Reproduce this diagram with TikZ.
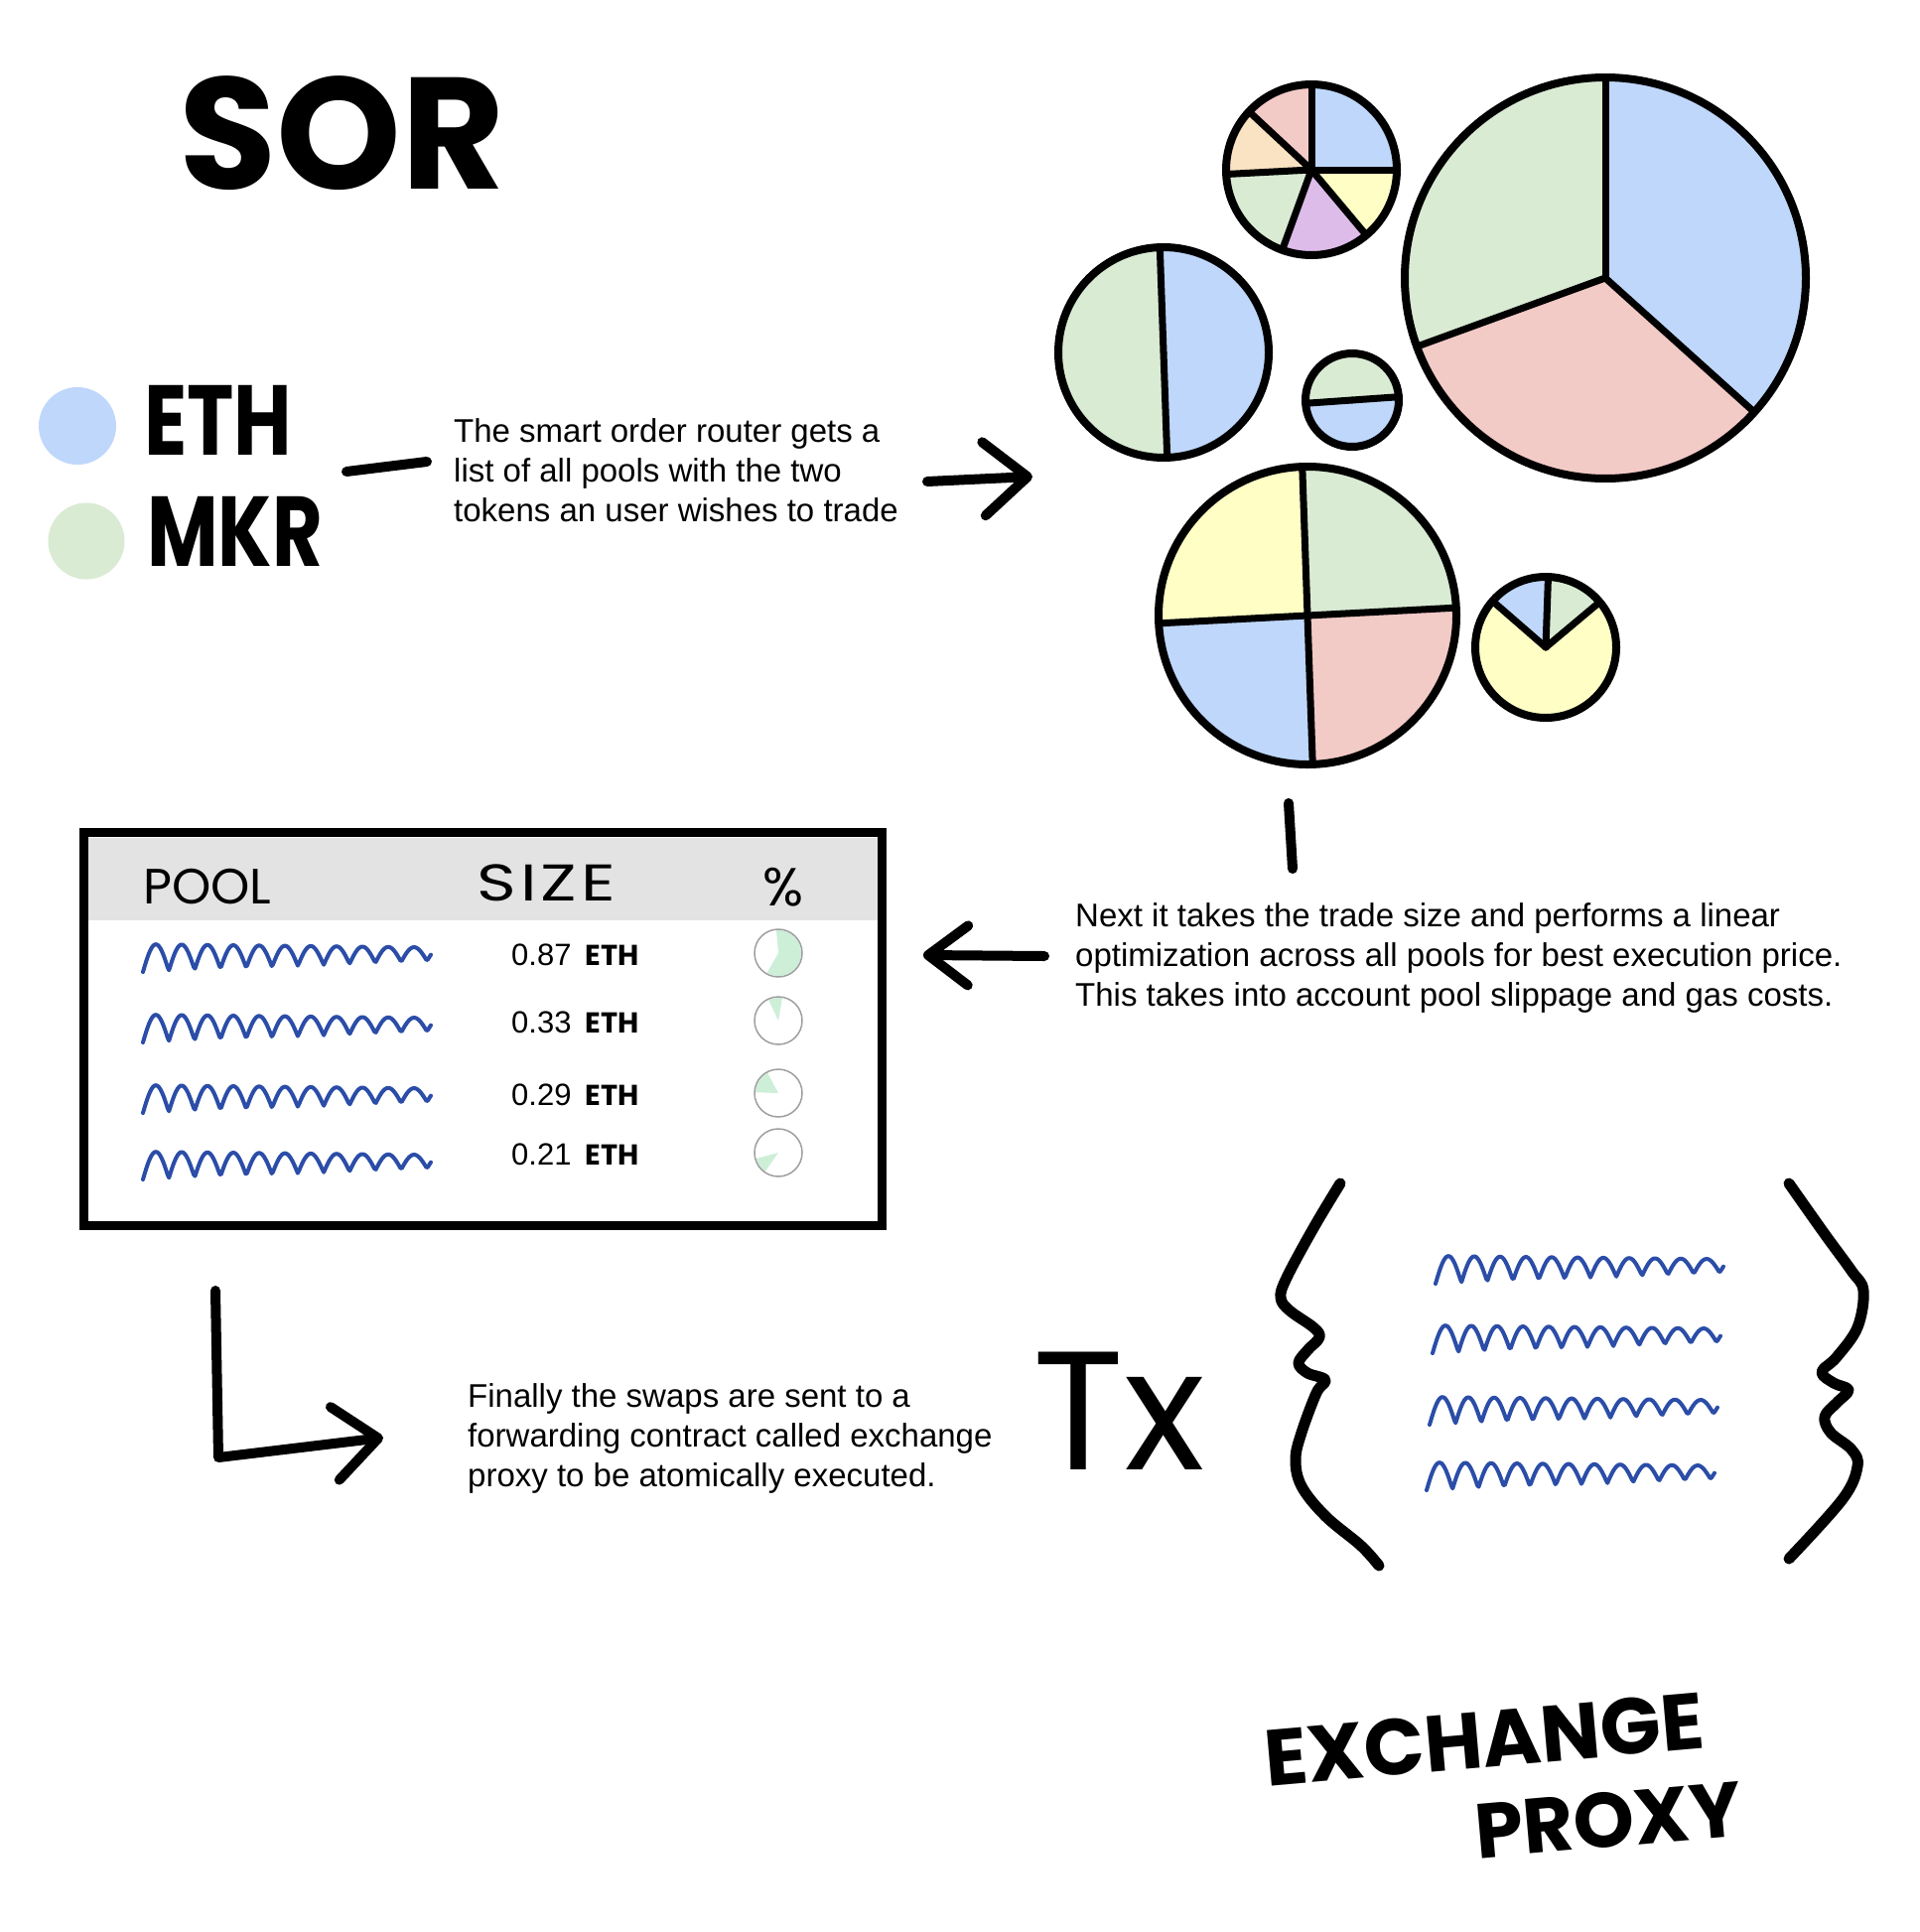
\documentclass[tikz,border=0pt]{standalone}
\usepackage{fontspec}
\setmainfont{Liberation Sans}
\newfontfamily\handfont{Poppins}
\usetikzlibrary{arrows.meta}

\definecolor{ethblue}{HTML}{BFD7FB}
\definecolor{mkrgreen}{HTML}{D9EBD3}
\definecolor{poolred}{HTML}{F2CAC6}
\definecolor{poolyellow}{HTML}{FEFEC5}
\definecolor{poolorange}{HTML}{F9E3C2}
\definecolor{poolpurple}{HTML}{DDBCEA}
\definecolor{headgrey}{HTML}{E3E3E3}
\definecolor{scribble}{HTML}{2B4DA8}
\definecolor{mint}{HTML}{CDEFD8}

% pie: centre x, centre y, radius, slices as start/end/colour
\newcommand{\drawpie}[4]{%
  \begin{scope}[shift={(#1,#2)},y=1pt]
    \foreach \a/\b/\c in {#4}
      {\fill[\c] (0,0) -- (\a:#3) arc[start angle=\a, end angle=\b, radius=#3] -- cycle;}
    \foreach \a/\b/\c in {#4}
      {\draw[slice] (0,0) -- (\a:#3);}
    \draw[rim] (0,0) circle[radius=#3];
  \end{scope}}

% scribbled pool name
\newcommand{\squiggle}[2]{%
  \draw[squig] plot[domain=0:290, samples=200]
    ({#1+\x}, {#2+0.5*(28-0.05*\x)-(28-0.05*\x)*abs(sin(6.92*\x))-0.0138*\x});}

\begin{document}
\begin{tikzpicture}[x=1pt,y=-1pt,
                    barb/.style={-{Straight Barb[round,length=44pt,width=74pt]}}]
  \tikzstyle{ink}=[line width=10pt,line cap=round,line join=round]
  \tikzstyle{rim}=[line width=8pt]
  \tikzstyle{slice}=[line width=7pt,line cap=round]
  \tikzstyle{squig}=[scribble,line width=4pt,line cap=round,line join=round]
  \tikzstyle{note}=[font=\fontsize{33}{40}\selectfont,align=left,anchor=base west,inner sep=0pt]
  \tikzstyle{hand}=[inner sep=0pt,anchor=base west]
  \tikzstyle{pct}=[circle,draw=gray!75,line width=1.5pt,minimum size=48pt,inner sep=0pt]

  \fill[white] (0,0) rectangle (1934,1946);
  \useasboundingbox (0,0) rectangle (1934,1946);

  % title and tokens
  \node[hand,font=\handfont\bfseries\fontsize{160}{160}\selectfont] (sor) at (180,190) {SOR};
  \node[circle,fill=ethblue,minimum size=78pt,inner sep=0pt] (ethdot) at (78,429) {};
  \node[circle,fill=mkrgreen,minimum size=77pt,inner sep=0pt] (mkrdot) at (87,545) {};
  \node[hand,xscale=0.8,font=\handfont\bfseries\fontsize{100}{100}\selectfont] (eth) at (145,458) {ETH};
  \node[hand,xscale=0.78,font=\handfont\bfseries\fontsize{100}{100}\selectfont] (mkr) at (148,570) {MKR};

  % notes (anchored on their last line)
  \node[note] (t1) at (457,525) {The smart order router gets a\\list of all pools with the two\\tokens an user wishes to trade};
  \node[note] (t2) at (1083,1013) {Next it takes the trade size and performs a linear\\optimization across all pools for best execution price.\\This takes into account pool slippage and gas costs.};
  \node[note] (t3) at (471,1497) {Finally the swaps are sent to a\\forwarding contract called exchange\\proxy to be atomically executed.};

  % pools
  \drawpie{1321}{171}{86}{0/90/ethblue, 90/137/poolred, 137/183/poolorange, 183/250/mkrgreen, 250/310/poolpurple, 310/360/poolyellow}
  \drawpie{1617}{280}{202}{-42/90/ethblue, 90/200/mkrgreen, 200/318/poolred}
  \drawpie{1172}{355}{106}{92/272/mkrgreen, 272/452/ethblue}
  \drawpie{1362}{403}{47}{4/184/mkrgreen, 184/364/ethblue}
  \drawpie{1317}{620}{150}{3/92/mkrgreen, 92/183/poolyellow, 183/272/ethblue, 272/363/poolred}
  \drawpie{1557}{652}{71}{40/88/mkrgreen, 88/139/ethblue, 139/400/poolyellow}

  % table of pools
  \fill[headgrey] (86,844) rectangle (886,927);
  \node[draw,line width=9pt,minimum width=804pt,minimum height=396pt] (tab) at (486,1036) {};
  \node[hand,font=\handfont\fontsize{50}{50}\selectfont] (hpool) at (144,910) {POOL};
  \node[hand,xscale=1.3,font=\handfont\fontsize{52}{52}\selectfont\addfontfeature{LetterSpace=6}] (hsize) at (480,907) {SIZE};
  \node[hand,font=\handfont\fontsize{54}{54}\selectfont] (hpct) at (768,912) {\%};

  \foreach \y/\b/\v/\s/\e [count=\i] in {965/972/0.87/-120/95, 1036/1040/0.33/80/115,
                                         1107/1113/0.29/118/178, 1174/1173/0.21/195/235} {
    \squiggle{144}{\y}
    \node[hand,font=\fontsize{31}{31}\selectfont] (size\i) at (515,\b)
      {\v\hspace{14pt}{\handfont\bfseries\fontsize{29}{29}\selectfont ETH}};
    \fill[mint] (784,\b-12) -- ++(-\s:23) arc[start angle=-\s, end angle=-\e, radius=23] -- cycle;
    \node[pct] (pct\i) at (784,\b-12) {};
  }

  % transaction
  \node[hand,font=\handfont\fontsize{170}{170}\selectfont] (tx) at (1040,1480) {Tx};
  \draw[ink,line width=11pt] plot[smooth,tension=0.6] coordinates {(1350,1192) (1323,1237) (1296,1287) (1290,1307)
    (1299,1320) (1323,1337) (1329,1347) (1317,1360) (1308,1373) (1317,1383) (1335,1390) (1326,1403)
    (1311,1443) (1305,1470) (1311,1497) (1335,1527) (1371,1557) (1389,1577)};
  \draw[ink,line width=11pt] plot[smooth,tension=0.6] coordinates {(1802,1192) (1838,1243) (1865,1280) (1877,1300)
    (1871,1337) (1850,1367) (1835,1382) (1847,1393) (1862,1400) (1850,1413) (1838,1427) (1844,1443)
    (1865,1460) (1871,1477) (1856,1510) (1802,1570)};
  \foreach \y/\sx in {1279/1446, 1349/1443, 1421/1440, 1487/1437}
    {\squiggle{\sx}{\y}}

  \node[hand,anchor=center,rotate=5,font=\handfont\bfseries\fontsize{80}{80}\selectfont] (exch) at (1495,1752) {EXCHANGE};
  \node[hand,anchor=center,rotate=5,font=\handfont\bfseries\fontsize{78}{78}\selectfont] (proxy) at (1620,1833) {PROXY};

  % hand drawn strokes and arrows
  \coordinate (d1) at (349,475);   \coordinate (d2) at (430,465);
  \coordinate (a1) at (934,485);   \coordinate (b1) at (1040,480);
  \coordinate (v1) at (1298,809);  \coordinate (v2) at (1302,875);
  \coordinate (a2) at (1052,963);  \coordinate (b2) at (930,962);
  \coordinate (l1) at (217,1300);  \coordinate (l2) at (220,1468);  \coordinate (l3) at (386,1448);

  \path[ink] (d1) edge (d2)
             (v1) edge (v2)
             (a1) edge [barb] (b1)
             (a2) edge [-{Straight Barb[round,length=40pt,width=60pt]}] (b2);
  \draw[ink,barb] (l1) -- (l2) -- (l3);
\end{tikzpicture}
\end{document}
